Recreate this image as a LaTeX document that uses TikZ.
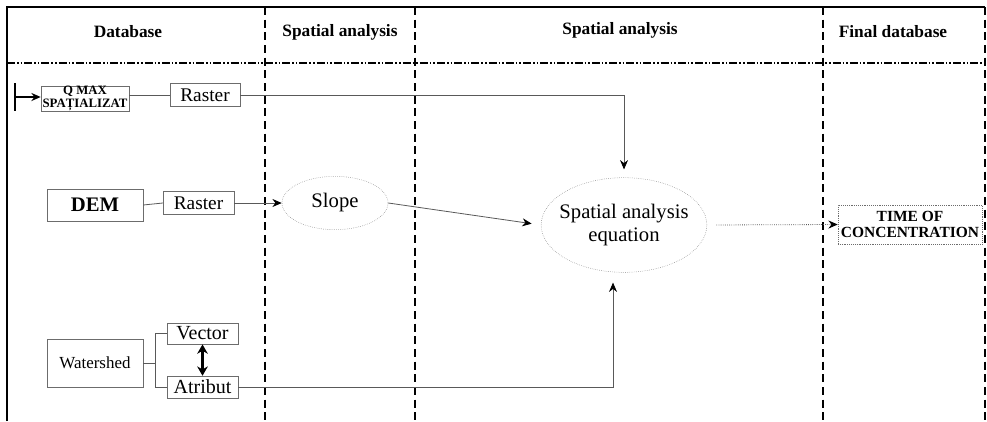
\documentclass[tikz,border=0pt]{standalone}
\usepackage{fontspec}
\setmainfont{Liberation Serif}
\usetikzlibrary{arrows.meta,positioning,shapes.geometric}

\begin{document}
\begin{tikzpicture}[x=0.75pt,y=-0.75pt,>={Stealth[black,length=7pt,width=6pt]},
  box/.style={draw=gray!85!black, inner sep=0pt, align=center},
  oval/.style={ellipse, draw=gray, densely dotted, inner sep=0pt, align=center},
  link/.style={draw=gray!70!black, line width=0.6pt},
  divider/.style={line width=1.6pt, dash pattern=on 6pt off 3.5pt},
  sep/.style={line width=1.3pt, dash pattern=on 6pt off 1.5pt on 1.2pt off 1.5pt on 1.2pt off 1.5pt},
  head/.style={font=\bfseries\fontsize{13}{15}\selectfont}]
\useasboundingbox (0,0) rectangle (987,421);
% frame and columns
\draw[line width=1.8pt] (7,421) -- (7,7) -- (985,7);
\foreach \x in {265,415,823,985}
  \draw[divider] (\x,7) -- (\x,421);
\draw[sep] (7,63) -- (985,63);
\node[head] (hdb) at (128,32) {Database};
\node[head] (hsa1) at (340,32) {Spatial analysis};
\node[head] (hsa2) at (620,30) {Spatial analysis};
\node[head] (hfin) at (893,32) {Final database};
% database column
\node[box, minimum width=66pt, minimum height=17pt, font=\bfseries\fontsize{9.6}{9.6}\selectfont] (qmax) at (85,98.5) {Q MAX\\SPAȚIALIZAT};
\node[box, minimum width=52.5pt, minimum height=17pt, font=\fontsize{14.5}{15}\selectfont] (rast1) at (205,95) {Raster};
\node[box, minimum width=72pt, minimum height=24pt, font=\bfseries\fontsize{15.5}{16}\selectfont] (dem) at (95,205) {DEM};
\node[box, minimum width=53pt, minimum height=17pt, font=\fontsize{14.5}{15}\selectfont] (rast2) at (198.5,203) {Raster};
\node[box, minimum width=72pt, minimum height=36pt, font=\fontsize{12.7}{13}\selectfont] (wshed) at (95,363) {Watershed};
\node[box, minimum width=53pt, minimum height=16pt, font=\fontsize{15}{15}\selectfont] (vect) at (202.5,333.5) {Vector};
\node[box, minimum width=53pt, minimum height=16.5pt, font=\fontsize{15}{15}\selectfont] (atrib) at (202.5,387) {Atribut};
% analysis
\node[oval, minimum width=79.5pt, minimum height=40pt, font=\fontsize{15.5}{16}\selectfont] (slope) at (335,203) {Slope};
\node[oval, inner sep=-4.5pt, minimum width=124pt, minimum height=71pt, font=\fontsize{15.5}{17}\selectfont] (eqn) at (624,225) {Spatial analysis\\equation};
\node[box, densely dotted, minimum width=108pt, minimum height=29pt, font=\bfseries\fontsize{11.6}{12.5}\selectfont] (toc) at (910,224.5) {TIME OF\\CONCENTRATION};
% start
\coordinate (start) at (15,97);
\draw[line width=1.6pt] (15,83) -- (15,111);
\draw[line width=1.6pt,->] (start) -- (qmax.west |- start);
% connectors
\draw[link] (qmax.east |- rast1.west) -- (rast1.west);
\draw[link,->,shorten >=6pt] (rast1.east) -| (eqn.north);
\draw[link] (dem.east) -- (rast2.west);
\draw[link,->] (rast2.east) -- (slope.west);
\draw[link,->,shorten >=7pt] (slope.east) -- (eqn.west);
\draw[link,->,densely dotted,shorten <=7pt] (eqn.east) -- (toc.west);
\coordinate (fork) at ([xshift=9pt]wshed.east);
\draw[link] (wshed.east) -- (fork) |- (vect.west);
\draw[link] (fork) |- (atrib.west);
\draw[line width=1.6pt,<->,>={Stealth[black,length=7pt,width=8pt]}] (vect.south) -- (atrib.north);
\coordinate (eqin) at ([xshift=-8.25pt,yshift=-7.5pt]eqn.south);
\draw[link,->] (atrib.east) -| (eqin);
\end{tikzpicture}
\end{document}
